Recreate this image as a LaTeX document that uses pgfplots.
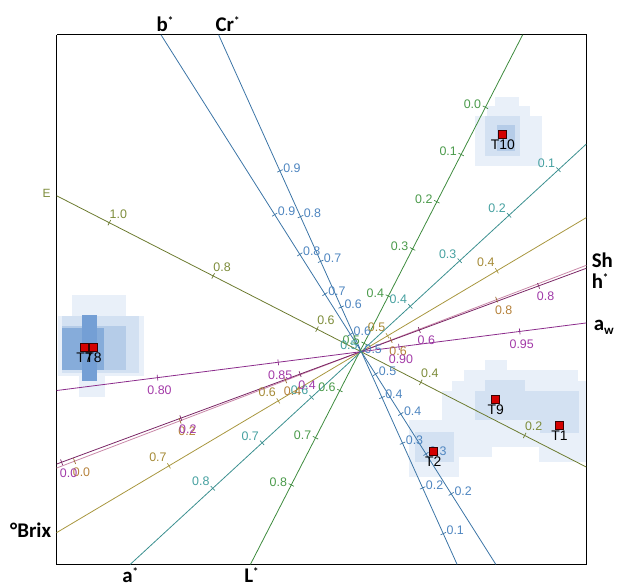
\documentclass[border=0pt]{standalone}
\usepackage{fontspec}
\setmainfont{Liberation Sans}
\newfontfamily\carl{Carlito}
\usepackage{pgfplots}
\pgfplotsset{compat=1.18}

\definecolor{dA}{HTML}{E9F0F9}
\definecolor{dB}{HTML}{D3E1F2}
\definecolor{dC}{HTML}{B5CCE8}
\definecolor{dD}{HTML}{86ACDA}
\definecolor{dE}{HTML}{749FD5}
\definecolor{lnB}{HTML}{3B74A6}\definecolor{txB}{HTML}{4F86C0}
\definecolor{lnE}{HTML}{6B7A2E}\definecolor{txE}{HTML}{7D8C3A}
\definecolor{lnL}{HTML}{3D8B3D}\definecolor{txL}{HTML}{4A9A4A}
\definecolor{lnA}{HTML}{3A8F8F}\definecolor{txA}{HTML}{45A0A0}
\definecolor{lnX}{HTML}{A8963E}\definecolor{txX}{HTML}{A58A36}
\definecolor{lnS}{HTML}{C988A8}\definecolor{tkS}{HTML}{9A6A30}\definecolor{txS}{HTML}{B5813A}
\definecolor{lnH}{HTML}{7A2565}\definecolor{txH}{HTML}{A03AA8}
\definecolor{lnW}{HTML}{8B2B8B}\definecolor{txW}{HTML}{A33AA8}
\definecolor{ptR}{HTML}{D40000}\definecolor{ptE}{HTML}{3A0000}

\newcommand{\blk}[5]{\addplot[draw=none, fill=#1, forget plot] coordinates {(#2,#3) (#4,#3) (#4,#5) (#2,#5)};}
\newcommand{\st}{\raisebox{7pt}{\fontsize{11}{11}\selectfont *}}

\pgfplotsset{
  tk/.style n args={3}{only marks, mark=|, mark size=3pt, color=#1,
    mark options={rotate=#2, line width=0.7pt},
    nodes near coords, point meta=explicit symbolic,
    every node near coord/.append style={font=\fontsize{12.5}{12.5}\selectfont, text=#3, inner sep=0pt}},
  ln/.style={line width=0.8pt, color=#1}
}

\begin{document}
\begin{tikzpicture}
\begin{axis}[width=617pt, height=591pt, scale only axis,
  xmin=0, xmax=617, ymin=0, ymax=591, y dir=reverse,
  hide axis, clip=false]

\addplot[draw=none, forget plot] coordinates {(0,0) (617,591)};

% density blocks
\blk{dA}{72}{297}{127}{318}
\blk{dA}{58}{318}{145}{378}
\blk{dA}{80}{375}{106}{400}
\blk{dB}{62}{318}{140}{375}
\blk{dC}{62}{328}{127}{372}
\blk{dD}{62}{330}{105}{372}
\blk{dE}{83}{317}{98}{383}

\blk{dA}{498}{98}{522}{108}
\blk{dA}{490}{107}{533}{117}
\blk{dA}{478}{117}{545}{167}
\blk{dB}{488}{117}{523}{157}
\blk{dC}{500}{126}{518}{152}

\blk{dA}{488}{362}{510}{373}
\blk{dA}{467}{372}{582}{384}
\blk{dA}{455}{383}{590}{450}
\blk{dA}{542}{450}{590}{465}
\blk{dA}{445}{393}{495}{460}
\blk{dA}{412}{423}{462}{480}
\blk{dB}{488}{382}{528}{394}
\blk{dB}{478}{393}{583}{423}
\blk{dB}{543}{412}{583}{436}
\blk{dB}{418}{435}{457}{465}

% frame
\addplot[black, line width=1.3pt] coordinates {(57,35) (590,35) (590,568) (57,568) (57,35)};

% axis lines
\addplot[ln=lnB] coordinates {(162,35) (499,568)};
\addplot[ln=lnB] coordinates {(220,35) (460,568)};
\addplot[ln=lnE] coordinates {(57,197) (590,470)};
\addplot[ln=lnL] coordinates {(526,35) (252,568)};
\addplot[ln=lnA] coordinates {(590,145) (131,568)};
\addplot[ln=lnX] coordinates {(590,219) (57,536)};
\addplot[ln=lnS] coordinates {(590,267) (57,471)};
\addplot[ln=lnH] coordinates {(590,270) (57,467)};
\addplot[ln=lnW] coordinates {(590,325) (57,393)};

% ticks b*
\addplot[tk={lnB}{-57.7}{txB}, every node near coord/.append style={anchor=west, xshift=3pt, yshift=3pt}]
 table[meta=l, row sep=\\] {x y l\\ 276.4 216 0.9\\ 301.7 256 0.8\\ 327 296 0.7\\ 352.6 336.5 0.6\\ 378 376.5 0.5\\ 403.3 416.6 0.4\\ 428.7 456.8 0.3\\ 454.1 497 0.2\\};
% ticks Cr*
\addplot[tk={lnB}{-65.8}{txB}, every node near coord/.append style={anchor=west, xshift=3pt, yshift=3pt}]
 table[meta=l, row sep=\\] {x y l\\ 281.7 172 0.9\\ 302.4 218 0.8\\ 322.7 263 0.7\\ 343.4 309 0.6\\ 363.6 354 0.5\\ 384.4 400 0.4\\ 405.1 446 0.3\\ 425.3 491 0.2\\ 446.1 537 0.1\\};
% ticks E
\addplot[tk={lnE}{-27.1}{txE}, every node near coord/.append style={anchor=south west, xshift=0pt, yshift=4pt}]
 table[meta=l, row sep=\\] {x y l\\ 110 224.1 1.0\\ 214.5 277.7 0.8\\ 319 331.2 0.6\\ 423.5 384.7 0.4\\ 528 438.2 0.2\\};
% ticks L*
\addplot[tk={lnL}{62.8}{txL}, every node near coord/.append style={anchor=east, xshift=-4pt, yshift=3pt}]
 table[meta=l, row sep=\\] {x y l\\ 488.5 108 0.0\\ 464.1 155.5 0.1\\ 439.6 203 0.2\\ 415.2 250.5 0.3\\ 390.8 298 0.4\\ 366.4 345.5 0.5\\ 342 393 0.6\\ 317.5 440.5 0.7\\ 293.1 488 0.8\\};
% ticks a*
\addplot[tk={lnA}{42.7}{txA}, every node near coord/.append style={anchor=south east, xshift=-3pt, yshift=2pt}]
 table[meta=l, row sep=\\] {x y l\\ 562 170.8 0.1\\ 512.3 216.6 0.2\\ 462.6 262.4 0.3\\ 412.9 308.2 0.4\\ 363.2 354 0.5\\ 313.5 399.8 0.6\\ 263.8 445.6 0.7\\ 214.1 491.4 0.8\\};
% ticks Brix
\addplot[tk={lnX}{30.7}{txX}, every node near coord/.append style={anchor=south east, xshift=-2pt, yshift=4pt}]
 table[meta=l, row sep=\\] {x y l\\ 500 272.5 0.4\\ 390 337.9 0.5\\ 280 403.4 0.6\\ 170 468.8 0.7\\};
% ticks Sh
\addplot[tk={tkS}{20.9}{txS}, every node near coord/.append style={anchor=north west, xshift=-2pt, yshift=-6pt}]
 table[meta=l, row sep=\\] {x y l\\ 75 464.1 0.0\\ 181.2 423.5 0.2\\ 287.4 382.8 0.4\\ 393.6 342.2 0.6\\ 499.8 301.5 0.8\\};
% ticks h*
\addplot[tk={lnH}{20.3}{txH}, every node near coord/.append style={anchor=north west, xshift=-2pt, yshift=-6pt}]
 table[meta=l, row sep=\\] {x y l\\ 62 465.2 0.0\\ 182 420.8 0.2\\ 302 376.4 0.4\\ 422 332.1 0.6\\ 542 287.7 0.8\\};
% ticks aw
\addplot[tk={lnW}{7.3}{txW}, every node near coord/.append style={anchor=north, xshift=2pt, yshift=-8pt}]
 table[meta=l, row sep=\\] {x y l\\ 523 333.5 0.95\\ 401.5 349.1 0.90\\ 280 364.6 0.85\\ 158.5 380.1 0.80\\};

% points
\addplot[only marks, mark=square*, mark size=4pt, mark options={fill=ptR, draw=ptE, line width=0.8pt},
  nodes near coords, point meta=explicit symbolic,
  every node near coord/.append style={anchor=north, yshift=-5pt, font=\fontsize{14}{14}\selectfont, text=black, inner sep=0pt}]
 table[meta=l, row sep=\\] {x y l\\ 506 135 T10\\ 499 402 T9\\ 563 428 T1\\ 436 454 T2\\ 85 350 T7\\ 94 350 T8\\};

% axis names
\node[anchor=base, font=\carl\bfseries\fontsize{21}{21}\selectfont] at (axis cs:166,32) {b\st};
\node[anchor=base, font=\carl\bfseries\fontsize{21}{21}\selectfont] at (axis cs:229,32) {Cr\st};
\node[anchor=base west, font=\carl\bfseries\fontsize{21}{21}\selectfont] at (axis cs:592,269) {Sh};
\node[anchor=base west, font=\carl\bfseries\fontsize{21}{21}\selectfont] at (axis cs:592,290) {h\st};
\node[anchor=base west, font=\carl\bfseries\fontsize{21}{21}\selectfont] at (axis cs:594,333) {a\raisebox{-4pt}{\fontsize{13}{13}\selectfont w}};
\node[anchor=base east, font=\carl\bfseries\fontsize{21}{21}\selectfont] at (axis cs:55,541) {°Brix};
\node[anchor=base, font=\carl\bfseries\fontsize{21}{21}\selectfont] at (axis cs:131,586) {a\st};
\node[anchor=base, font=\carl\bfseries\fontsize{21}{21}\selectfont] at (axis cs:253,586) {L\st};
\node[anchor=center, font=\fontsize{12}{12}\selectfont, text=txE] at (axis cs:47,195) {E};

\end{axis}
\end{tikzpicture}
\end{document}
